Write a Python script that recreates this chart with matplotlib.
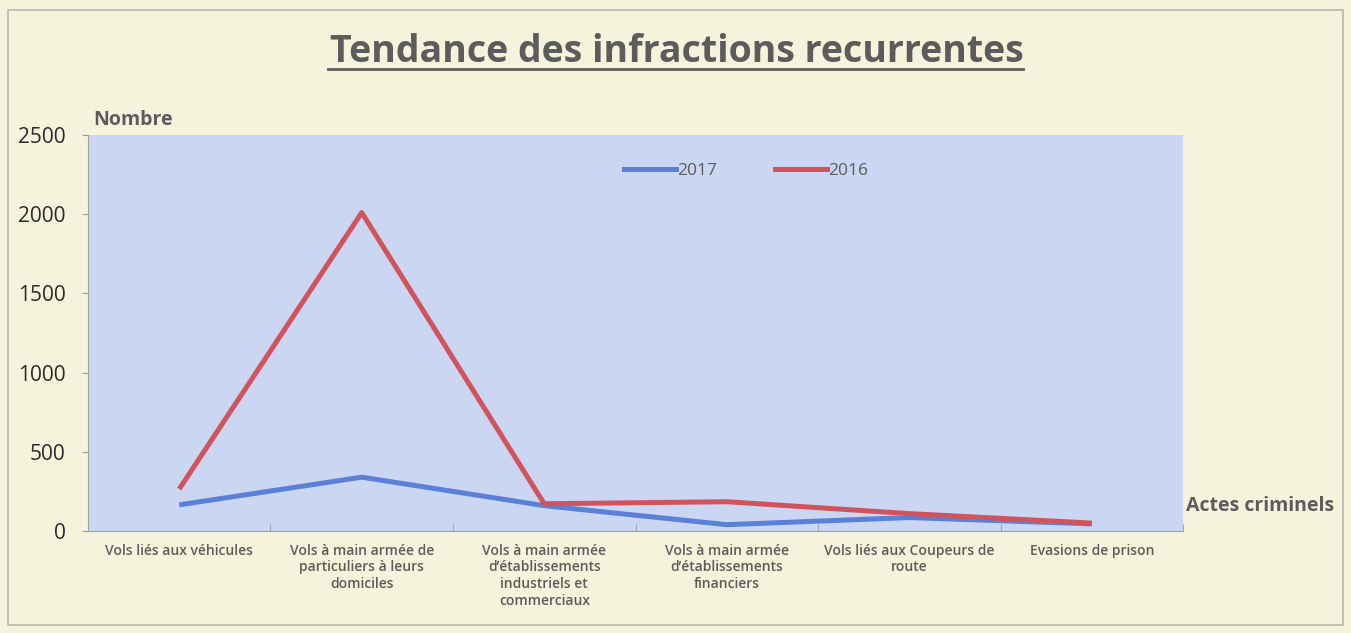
"""Tendance des infractions recurrentes: 2016 vs 2017 line chart."""

import matplotlib

matplotlib.use("Agg")
import matplotlib.pyplot as plt
from matplotlib.lines import Line2D
from matplotlib.patches import Rectangle

plt.rcParams["font.family"] = ["Open Sans", "DejaVu Sans"]

categories = [
    "Vols liés aux véhicules",
    "Vols à main armée de\nparticuliers à leurs\ndomiciles",
    "Vols à main armée\nd’établissements\nindustriels et\ncommerciaux",
    "Vols à main armée\nd’établissements\nfinanciers",
    "Vols liés aux Coupeurs de\nroute",
    "Evasions de prison",
]
values_2017 = [165, 340, 160, 40, 85, 45]
values_2016 = [265, 2010, 172, 185, 110, 50]
y_ticks = [0, 500, 1000, 1500, 2000, 2500]

GRAY = "#5c5c5c"
BLUE = "#5b80d8"
RED = "#d1545c"
LW = 3.6

fig = plt.figure(figsize=(13.51, 6.33), dpi=100)
fig.patch.set_facecolor("#f6f3dc")
fig.add_artist(Rectangle((0.006, 0.012), 0.988, 0.972, transform=fig.transFigure,
                         fill=False, edgecolor="#b8b8b0", linewidth=1.2))

ax = fig.add_axes([0.0651, 0.1611, 0.8106, 0.6256])
ax.set_facecolor("#cad6f2")

x = list(range(len(categories)))
ax.plot(x, values_2017, color=BLUE, linewidth=LW, label="2017", solid_capstyle="butt")
ax.plot(x, values_2016, color=RED, linewidth=LW, label="2016", solid_capstyle="butt")

ax.set_xlim(-0.5, len(categories) - 0.5)
ax.set_ylim(0, 2500)
ax.set_yticks(y_ticks)
ax.set_yticklabels([str(v) for v in y_ticks], fontsize=15, color="#2a2a2a")
ax.tick_params(axis="y", length=4, pad=12, color="#9a9a9a")

ax.set_xticks(x)
ax.set_xticklabels(categories, fontsize=10, color=GRAY, fontweight="semibold",
                   linespacing=1.25, va="top")
ax.tick_params(axis="x", length=0, pad=9)
ax.set_xticks([i + 0.5 for i in range(-1, len(categories))], minor=True)
ax.tick_params(axis="x", which="minor", length=5, color="#9a9a9a", direction="in")

for side in ["top", "right"]:
    ax.spines[side].set_visible(False)
ax.spines["left"].set_color("#a0a0a0")
ax.spines["bottom"].set_color("#a0a0a0")

legend = ax.legend(
    handles=[Line2D([], [], color=BLUE, linewidth=LW), Line2D([], [], color=RED, linewidth=LW)],
    labels=["2017", "2016"],
    loc="upper center", bbox_to_anchor=(0.601, 0.97), ncol=2, frameon=False,
    fontsize=12.5, handlelength=3.0, handletextpad=0.1, columnspacing=3.3,
)
for text in legend.get_texts():
    text.set_color(GRAY)

fig.text(0.069, 0.795, "Nombre", fontsize=14, fontweight="bold", color=GRAY,
         ha="left", va="bottom")
fig.text(0.878, 0.20, "Actes criminels", fontsize=14, fontweight="bold", color=GRAY,
         ha="left", va="center")

fig.text(0.501, 0.918, "Tendance des infractions recurrentes", fontsize=27,
         fontweight="bold", color=GRAY, ha="center", va="center")
fig.add_artist(Line2D([0.243, 0.757], [0.891, 0.891], transform=fig.transFigure,
                      color=GRAY, linewidth=2))

fig.savefig("out.png", dpi=100, facecolor=fig.get_facecolor())
